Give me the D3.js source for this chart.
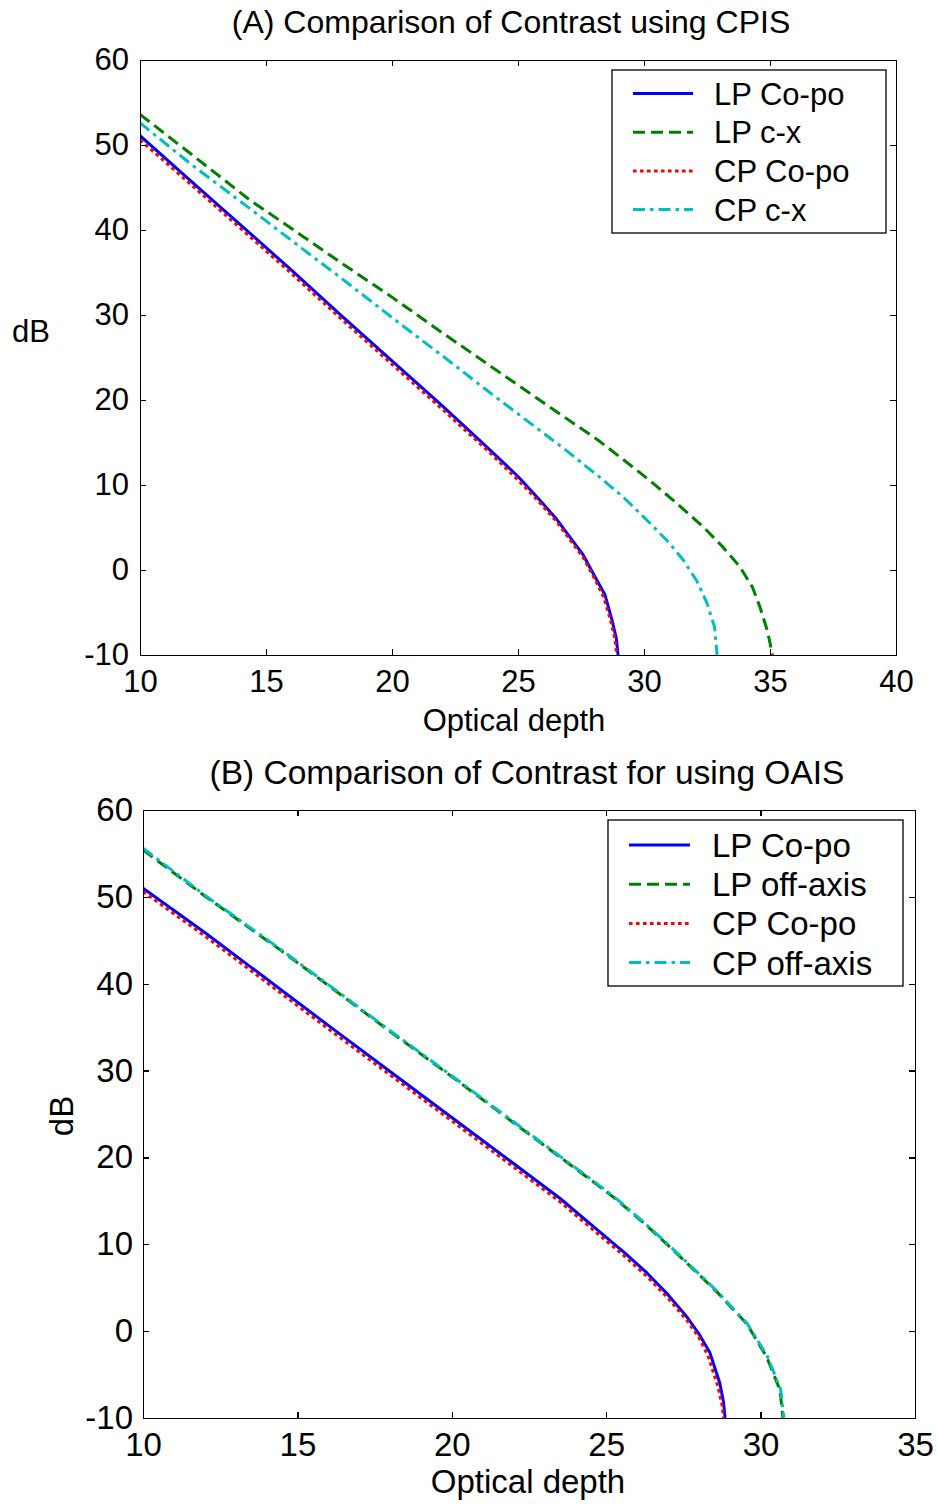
<!DOCTYPE html>
<html lang="en">
<head>
<meta charset="UTF-8">
<script src="https://d3js.org/d3.v7.min.js"></script>
<style>
  body { margin: 0; background: #fff; }
  svg { display: block; }
  text { fill: #000; font-family: "Liberation Sans", Arial, sans-serif; }
  .axis path, .axis line { stroke: #000; stroke-width: 1.3; shape-rendering: crispEdges; }
</style>
</head>
<body>
<script>
// ---- data ----
var xTicksA = [10, 15, 20, 25, 30, 35, 40];
var xTicksB = [10, 15, 20, 25, 30, 35];
var yTicks = [-10, 0, 10, 20, 30, 40, 50, 60];

var namesA = ["LP Co-po", "LP c-x", "CP Co-po", "CP c-x"];
var namesB = ["LP Co-po", "LP off-axis", "CP Co-po", "CP off-axis"];

// panel A
var depthA_lpCo = [10, 12, 14.37, 16, 18, 20, 22, 23.81, 25, 25.87, 26.5, 27, 27.58, 28, 28.45, 28.73, 28.9, 28.97];
var dbA_lpCo    = [51.1, 45.8, 39.6, 35.3, 29.9, 24.6, 19.3, 14.35, 11.0, 8.2, 6.1, 4.1, 1.8, -0.5, -2.9, -5.9, -8, -10];
var depthA_lpCx = [10, 12, 14.37, 16, 18, 20, 22, 24, 26, 28.17, 29, 30.16, 31.2, 32.34, 33.1, 33.8, 34.3, 34.6, 34.9, 35.1];
var dbA_lpCx    = [53.6, 49.0, 43.5, 40.2, 36.1, 32.1, 27.9, 23.8, 19.7, 15.3, 13.4, 10.7, 8.1, 5.1, 2.8, 0.4, -2.0, -4.35, -7.2, -10];
var depthA_cpCo = [10, 12, 14.37, 16, 18, 20, 22, 23.81, 25, 25.87, 26.5, 27, 27.58, 28, 28.4, 28.7, 28.85, 28.92];
var dbA_cpCo    = [50.6, 45.4, 39.2, 34.9, 29.5, 24.2, 18.9, 14.0, 10.6, 7.9, 5.8, 3.8, 1.5, -0.8, -3.2, -6.2, -8.2, -10];
var depthA_cpCx = [10, 12, 14.37, 16, 18, 20, 22, 24, 26.79, 28.25, 29.2, 30.24, 31, 31.55, 32.1, 32.5, 32.8, 32.9];
var dbA_cpCx    = [52.6, 47.8, 42.5, 38.8, 34.3, 29.7, 25.2, 20.6, 14.35, 10.9, 8.5, 5.5, 3.2, 1.2, -1.3, -3.9, -6.7, -10];

// panel B
var depthB_lpCo  = [10, 12, 13.46, 16, 18, 20, 22, 23.5, 24.8, 25.6, 26.32, 27, 27.6, 28, 28.36, 28.68, 28.8, 28.85];
var dbB_lpCo     = [51.0, 45.9, 42.0, 35.2, 29.9, 24.6, 19.3, 15.3, 11.4, 9.0, 6.7, 4.2, 1.7, -0.3, -2.5, -6.0, -8.2, -10];
var depthB_lpOff = [10, 12, 14.44, 16, 18, 20, 22, 24.73, 25.35, 26.2, 26.97, 27.8, 28.59, 29.56, 30.2, 30.63, 30.72];
var dbB_lpOff    = [55.4, 50.1, 43.9, 39.8, 34.5, 29.3, 24.0, 16.8, 15.1, 12.5, 10.0, 7.2, 4.5, 0.8, -3.0, -6.8, -10];
var depthB_cpCo  = [10, 12, 13.46, 16, 18, 20, 22, 23.5, 24.8, 25.6, 26.32, 27, 27.6, 28, 28.3, 28.62, 28.75, 28.8];
var dbB_cpCo     = [50.6, 45.5, 41.6, 34.8, 29.5, 24.2, 18.9, 14.9, 11.0, 8.6, 6.3, 3.8, 1.3, -0.7, -2.9, -6.4, -8.5, -10];
var depthB_cpOff = [10, 12, 14.44, 16, 18, 20, 22, 24.73, 25.35, 26.2, 26.97, 27.8, 28.59, 29.56, 30.22, 30.65, 30.75];
var dbB_cpOff    = [55.6, 50.2, 44.0, 39.9, 34.6, 29.4, 24.1, 16.9, 15.2, 12.6, 10.1, 7.3, 4.6, 0.9, -2.9, -6.7, -10];

// ---- line styles (matlab defaults) ----
var styles = [
  {color: "#0000ff", dash: null, width: 3},
  {color: "#008000", dash: "12,6", width: 3},
  {color: "#ff0000", dash: "3.6,3.4", width: 3},
  {color: "#00bfbf", dash: "12,5,3.5,5", width: 3}
];

var svg = d3.select("body").append("svg")
    .attr("width", 938).attr("height", 1504);
svg.append("rect").attr("width", 938).attr("height", 1504).attr("fill", "#fff");

function drawPanel(p) {
  var x = d3.scaleLinear().domain(p.xDomain).range([p.left, p.right]);
  var y = d3.scaleLinear().domain([-10, 60]).range([p.bottom, p.top]);
  var g = svg.append("g").style("font-size", p.font + "px");

  g.append("clipPath").attr("id", p.id + "clip")
    .append("rect").attr("x", p.left).attr("y", p.top)
    .attr("width", p.right - p.left).attr("height", p.bottom - p.top);

  // series
  var line = d3.line().x(function(d) { return x(d[0]); }).y(function(d) { return y(d[1]); });
  var plot = g.append("g").attr("clip-path", "url(#" + p.id + "clip)");
  p.series.forEach(function(s, i) {
    plot.append("path")
      .datum(d3.zip(s[0], s[1]))
      .attr("d", line)
      .attr("fill", "none")
      .attr("stroke", styles[i].color)
      .attr("stroke-width", styles[i].width)
      .attr("stroke-dasharray", styles[i].dash)
      .attr("stroke-linejoin", "round");
  });

  // axes, ticks pointing inward on all four sides
  var fmt = function(d) { return String(d); };
  g.append("g").attr("class", "axis")
    .attr("transform", "translate(0," + p.bottom + ")")
    .call(d3.axisBottom(x).tickValues(p.xTicks).tickFormat(fmt).tickSizeInner(-6).tickSizeOuter(0).tickPadding(p.xPad));
  g.append("g").attr("class", "axis")
    .attr("transform", "translate(0," + p.top + ")")
    .call(d3.axisTop(x).tickValues(p.xTicks).tickFormat("").tickSizeInner(-6).tickSizeOuter(0));
  g.append("g").attr("class", "axis")
    .attr("transform", "translate(" + p.left + ",0)")
    .call(d3.axisLeft(y).tickValues(yTicks).tickFormat(fmt).tickSizeInner(-6).tickSizeOuter(0).tickPadding(p.yPad));
  g.append("g").attr("class", "axis")
    .attr("transform", "translate(" + p.right + ",0)")
    .call(d3.axisRight(y).tickValues(yTicks).tickFormat("").tickSizeInner(-6).tickSizeOuter(0));
  g.selectAll(".axis text").attr("fill", "#000");
  g.selectAll(".axis").attr("font-family", null).attr("font-size", null);

  // titles
  g.append("text").attr("x", p.titleX).attr("y", p.titleY)
    .attr("text-anchor", "middle").style("font-size", p.titleFont + "px").text(p.title);
  g.append("text").attr("x", p.xLabelX).attr("y", p.xLabelY)
    .attr("text-anchor", "middle").text("Optical depth");
  if (p.dbRotate) {
    g.append("text").attr("transform", "translate(" + p.dbX + "," + p.dbY + ") rotate(-90)")
      .attr("text-anchor", "middle").text("dB");
  } else {
    g.append("text").attr("x", p.dbX).attr("y", p.dbY).text("dB");
  }

  // legend
  var lg = g.append("g");
  lg.append("rect").attr("x", p.leg.x).attr("y", p.leg.y)
    .attr("width", p.leg.w).attr("height", p.leg.h)
    .attr("fill", "#fff").attr("stroke", "#000").attr("stroke-width", 1.3);
  p.names.forEach(function(n, i) {
    var ry = p.leg.y + p.leg.first + i * p.leg.step;
    lg.append("line").attr("x1", p.leg.x + p.leg.s0).attr("x2", p.leg.x + p.leg.s1)
      .attr("y1", ry).attr("y2", ry)
      .attr("stroke", styles[i].color).attr("stroke-width", styles[i].width)
      .attr("stroke-dasharray", styles[i].dash);
    lg.append("text").attr("x", p.leg.x + p.leg.tx).attr("y", ry + p.leg.base).text(n);
  });
}

drawPanel({
  id: "A", left: 140, right: 896, top: 60, bottom: 655, font: 31, titleFont: 32,
  xDomain: [10, 40], xTicks: xTicksA, xPad: 15, yPad: 11,
  title: "(A) Comparison of Contrast using CPIS", titleX: 511, titleY: 33,
  xLabelX: 514, xLabelY: 731, dbX: 12, dbY: 342, dbRotate: false,
  series: [[depthA_lpCo, dbA_lpCo], [depthA_lpCx, dbA_lpCx], [depthA_cpCo, dbA_cpCo], [depthA_cpCx, dbA_cpCx]],
  names: namesA,
  leg: {x: 612, y: 70, w: 274, h: 163, first: 23.5, step: 38.7, s0: 21, s1: 81, tx: 102, base: 11}
});

drawPanel({
  id: "B", left: 143, right: 915, top: 810, bottom: 1418, font: 33, titleFont: 33.5,
  xDomain: [10, 35], xTicks: xTicksB, xPad: 15, yPad: 10,
  title: "(B) Comparison of Contrast for using OAIS", titleX: 527, titleY: 784,
  xLabelX: 528, xLabelY: 1493, dbX: 73, dbY: 1116, dbRotate: true,
  series: [[depthB_lpCo, dbB_lpCo], [depthB_lpOff, dbB_lpOff], [depthB_cpCo, dbB_cpCo], [depthB_cpOff, dbB_cpOff]],
  names: namesB,
  leg: {x: 608, y: 820, w: 295, h: 166, first: 25, step: 39.2, s0: 21, s1: 82, tx: 104, base: 12}
});
</script>
</body>
</html>
